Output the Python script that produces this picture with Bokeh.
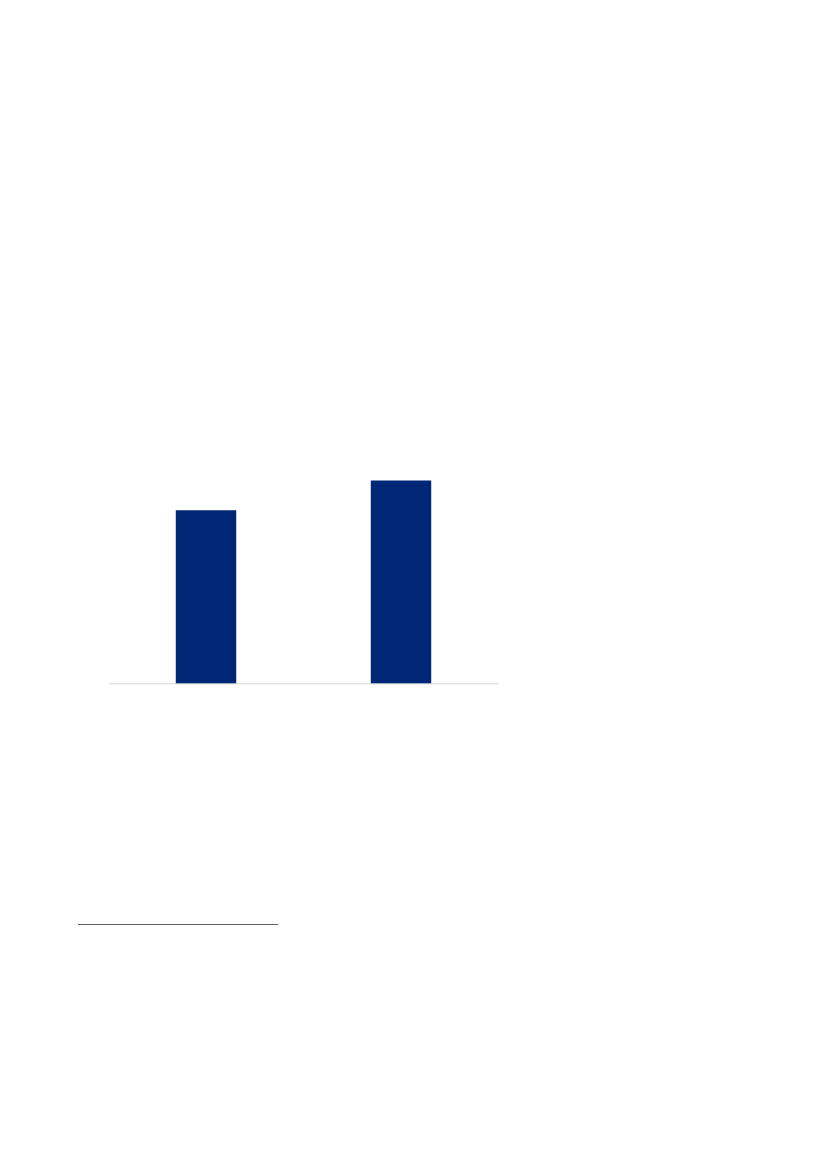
from bokeh.plotting import figure
from bokeh.models import ColumnDataSource, Div, Range1d, Span
from bokeh.layouts import column
from bokeh.embed import file_html
from bokeh.resources import INLINE

# data
categories = ["A", "B"]
values = [5.8, 6.8]

source = ColumnDataSource(dict(cat=categories, val=values))

p = figure(x_range=categories, y_range=Range1d(-0.02, 8),
           width=819, height=884, output_backend="svg", toolbar_location=None,
           min_border_left=108, min_border_right=321,
           min_border_top=444, min_border_bottom=200)
p.x_range.range_padding = 0
p.vbar(x="cat", top="val", width=0.31, source=source,
       fill_color="#002776", line_color=None)

p.add_layout(Span(location=0, dimension="width", line_color="#d9d9d9", line_width=1.5))

p.outline_line_color = None
p.grid.visible = False
p.yaxis.visible = False
p.xaxis.visible = False
p.background_fill_color = "white"
p.border_fill_color = "white"

note = Div(text='<div style="margin-left:73px;margin-top:35px;width:200px;'
                'border-top:1.5px solid #5f5f5f;height:1px"></div>',
           width=811, height=60)

layout = column(p, note, spacing=0)
open("out.html", "w").write(file_html(layout, INLINE))
